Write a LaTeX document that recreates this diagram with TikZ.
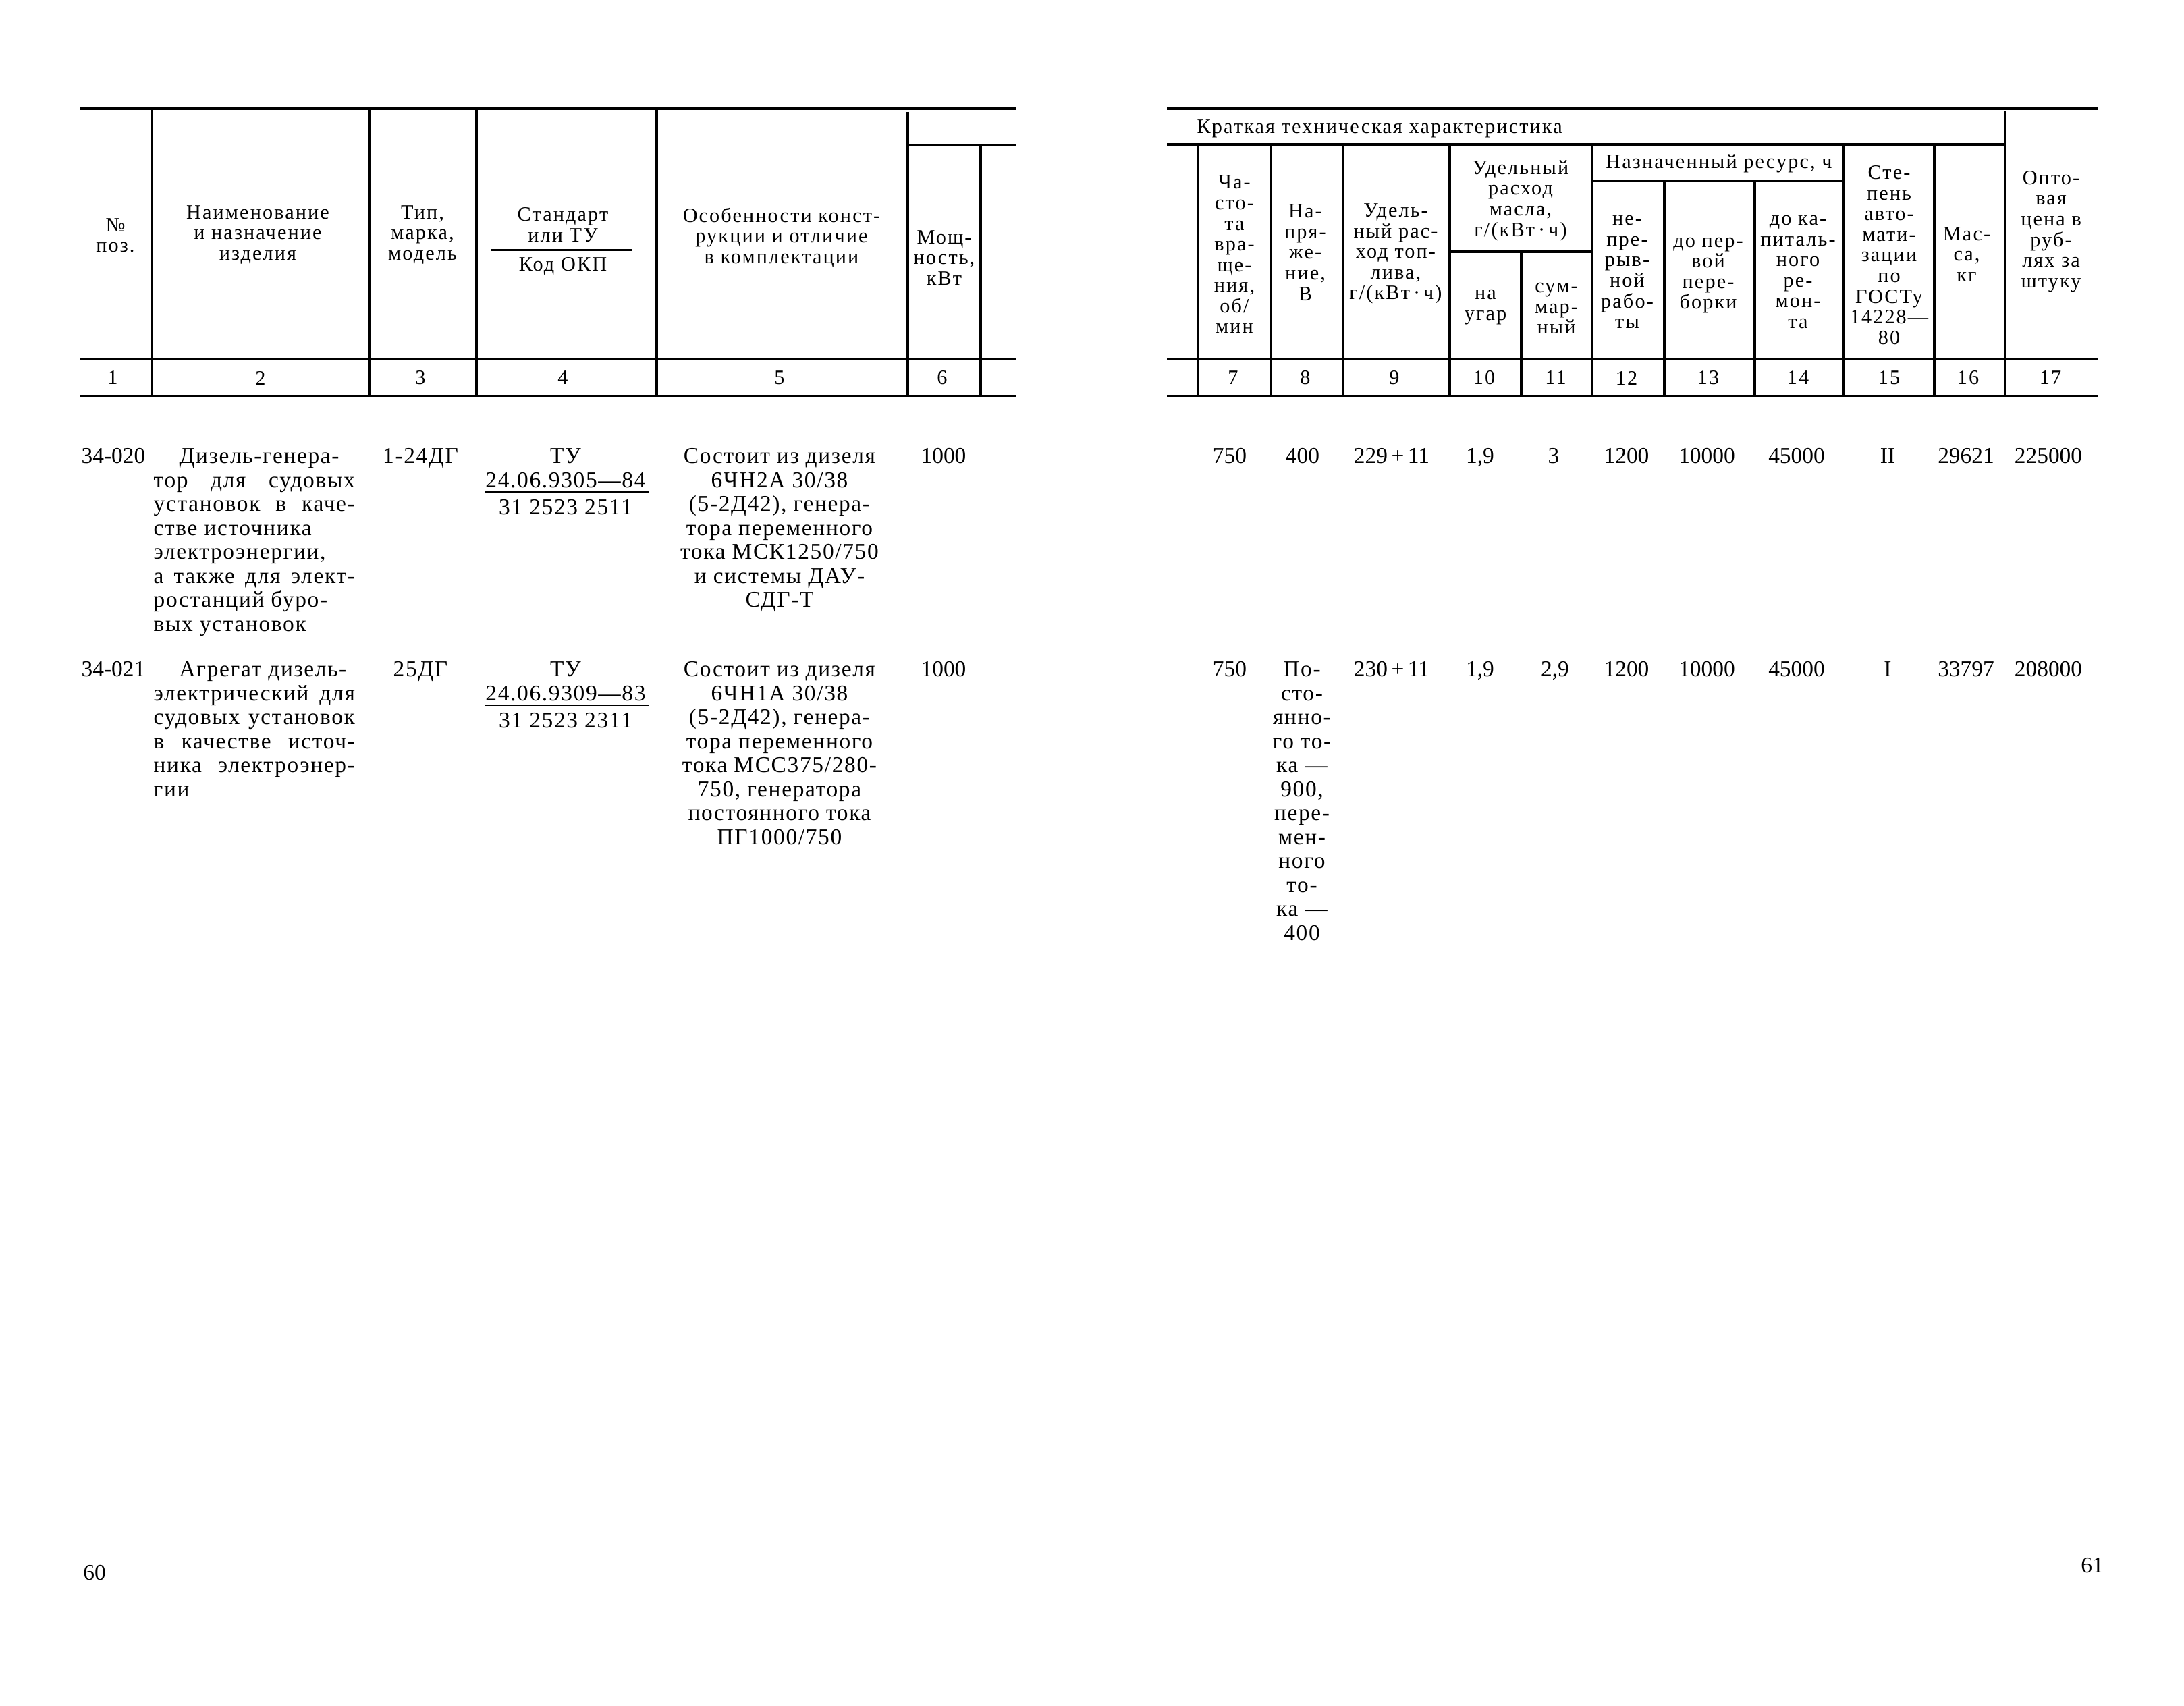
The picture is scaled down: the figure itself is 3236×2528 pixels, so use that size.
\documentclass[tikz,border=0pt]{standalone}
\usepackage{fontspec}
\setmainfont{Liberation Serif}
\newfontfamily\hdrfont{Liberation Serif}[LetterSpace=7]
\newfontfamily\txtfont{Liberation Serif}[LetterSpace=5]
\usetikzlibrary{positioning}

\newcommand{\jline}[1]{\makebox[2.98cm][s]{#1}}
\newcommand{\iline}[1]{\makebox[2.98cm][l]{\hspace*{0.38cm}#1}}

\tikzset{
  rule/.style={line width=1.15pt},
  thinrule/.style={line width=0.85pt},
  head/.style={font=\hdrfont\fontsize{8.6}{8.7}\selectfont, align=center, inner sep=0pt},
  txt/.style={font=\txtfont\fontsize{9.5}{10.1}\selectfont, align=center, inner sep=0pt, anchor=north},
  num/.style={font=\fontsize{9.5}{10.1}\selectfont, inner sep=0pt, anchor=north}
}

\begin{document}
\begin{tikzpicture}[x=0.01cm, y=-0.01cm]
   \useasboundingbox (0,0) rectangle (3236,2528);

   % left page rules
   \draw[rule] (118,161) -- (1505,161);
   \draw[rule] (1345,215) -- (1505,215);
   \draw[rule] (118,532) -- (1505,532);
   \draw[rule] (118,587) -- (1505,587);
   \foreach \x in {225,547,706,973}
      \draw[rule] (\x,161) -- (\x,587);
   \draw[rule] (1345,166) -- (1345,587);
   \draw[rule] (1453,215) -- (1453,587);
   \draw[thinrule] (728,371) -- (936,371);

   % right page rules
   \draw[rule] (1729,161) -- (3108,161);
   \draw[rule] (1729,214) -- (2971,214);
   \draw[rule] (2359,268) -- (2732,268);
   \draw[rule] (2148,373) -- (2359,373);
   \draw[rule] (1729,532) -- (3108,532);
   \draw[rule] (1729,587) -- (3108,587);
   \foreach \x in {1775,1883,1990,2148,2359,2732,2866}
      \draw[rule] (\x,214) -- (\x,587);
   \draw[rule] (2254,373) -- (2254,587);
   \foreach \x in {2466,2600}
      \draw[rule] (\x,268) -- (\x,587);
   \draw[rule] (2971,165) -- (2971,587);

   % left header
   \node[head] (h1) at (171,349) {№\\поз.};
   \node[head] (h2) at (382,348) {Наименование\\и назначение\\изделия};
   \node[head] (h3) at (626,348) {Тип,\\марка,\\модель};
   \node[head] (h4a) at (834,333) {Стандарт\\или ТУ};
   \node[head] (h4b) at (834,394) {Код ОКП};
   \node[head] (h5) at (1158,352) {Особенности конст-\\рукции и отличие\\в комплектации};
   \node[head] (h6) at (1399,382) {Мощ-\\ность,\\кВт};

   % right header
   \node[head, anchor=west] (kth) at (1773,191) {Краткая техническая характеристика};
   \node[head] (h7) at (1829,377) {Ча-\\сто-\\та\\вра-\\ще-\\ния,\\об/\\мин};
   \node[head] (h8) at (1934,374) {На-\\пря-\\же-\\ние,\\В};
   \node[head] (h9) at (2068,376) {Удель-\\ный рас-\\ход топ-\\лива,\\г/(кВт\,·\,ч)};
   \node[head] (h1011) at (2253,297) {Удельный\\расход\\масла,\\г/(кВт\,·\,ч)};
   \node[head] (h10) at (2201,455) {на\\угар};
   \node[head] (h11) at (2306,457) {сум-\\мар-\\ный};
   \node[head] (h1214) at (2547,242) {Назначенный ресурс, ч};
   \node[head] (h12) at (2411,403) {не-\\пре-\\рыв-\\ной\\рабо-\\ты};
   \node[head] (h13) at (2531,408) {до пер-\\вой\\пере-\\борки};
   \node[head] (h14) at (2664,403) {до ка-\\питаль-\\ного\\ре-\\мон-\\та};
   \node[head] (h15) at (2799,378) {Сте-\\пень\\авто-\\мати-\\зации\\по\\ГОСТу\\14228—\\80};
   \node[head] (h16) at (2914,377) {Мас-\\са,\\кг};
   \node[head] (h17) at (3039,343) {Опто-\\вая\\цена в\\руб-\\лях за\\штуку};

   % column numbers
   \foreach \x/\n in {167/1,386/2,623/3,834/4,1155/5,1396/6,
                      1827/7,1934/8,2066/9,2199/10,2305/11,2410/12,
                      2531/13,2664/14,2799/15,2916/16,3038/17}
      \node[head] (n\n) at (\x,560) {\n};

   % row 34-020
   \node[num, anchor=north west] (pos1) at (120,664) {34-020};
   \node[txt, anchor=north west, align=left] (name1) at (227,664)
      {\iline{Дизель-генера-}\\\jline{тор для судовых}\\\jline{установок в каче-}\\стве источника\\электроэнергии,\\\jline{а также для элект-}\\ростанций буро-\\вых установок};
   \node[txt] (type1) at (623,664) {1-24ДГ};
   \node[txt] (tu1) at (838,664) {ТУ\\24.06.9305—84};
   \draw[thinrule] (718,729) -- (962,729);
   \node[txt] (okp1) at (838,740) {31 2523 2511};
   \node[txt] (feat1) at (1155,664) {Состоит из дизеля\\6ЧН2А 30/38\\(5-2Д42), генера-\\тора переменного\\тока МСК1250/750\\и системы ДАУ-\\СДГ-Т};
   \node[num] (pw1) at (1398,664) {1000};
   \foreach \x/\v [count=\i] in {1822/750,1930/400,2062/229\,+\,11,2193/{1,9},2302/3,2410/1200,
                      2529/10000,2662/45000,2797/II,2913/29621,3035/225000}
      \node[num] (a\i) at (\x,664) {\v};

   % row 34-021
   \node[num, anchor=north west] (pos2) at (120,980) {34-021};
   \node[txt, anchor=north west, align=left] (name2) at (227,980)
      {\iline{Агрегат дизель-}\\\jline{электрический для}\\\jline{судовых установок}\\\jline{в качестве источ-}\\\jline{ника электроэнер-}\\гии};
   \node[txt] (type2) at (623,980) {25ДГ};
   \node[txt] (tu2) at (838,980) {ТУ\\24.06.9309—83};
   \draw[thinrule] (718,1045) -- (962,1045);
   \node[txt] (okp2) at (838,1056) {31 2523 2311};
   \node[txt] (feat2) at (1155,980) {Состоит из дизеля\\6ЧН1А 30/38\\(5-2Д42), генера-\\тора переменного\\тока МСС375/280-\\750, генератора\\постоянного тока\\ПГ1000/750};
   \node[num] (pw2) at (1398,980) {1000};
   \node[txt] (volt2) at (1929,980) {По-\\сто-\\янно-\\го то-\\ка —\\900,\\пере-\\мен-\\ного\\то-\\ка —\\400};
   \foreach \x/\v [count=\i] in {1822/750,2062/230\,+\,11,2193/{1,9},2304/{2,9},2410/1200,
                      2529/10000,2662/45000,2797/I,2913/33797,3035/208000}
      \node[num] (b\i) at (\x,980) {\v};

   % page numbers
   \node[num, anchor=center] (p60) at (140,2331) {60};
   \node[num, anchor=center] (p61) at (3100,2320) {61};
\end{tikzpicture}
\end{document}
